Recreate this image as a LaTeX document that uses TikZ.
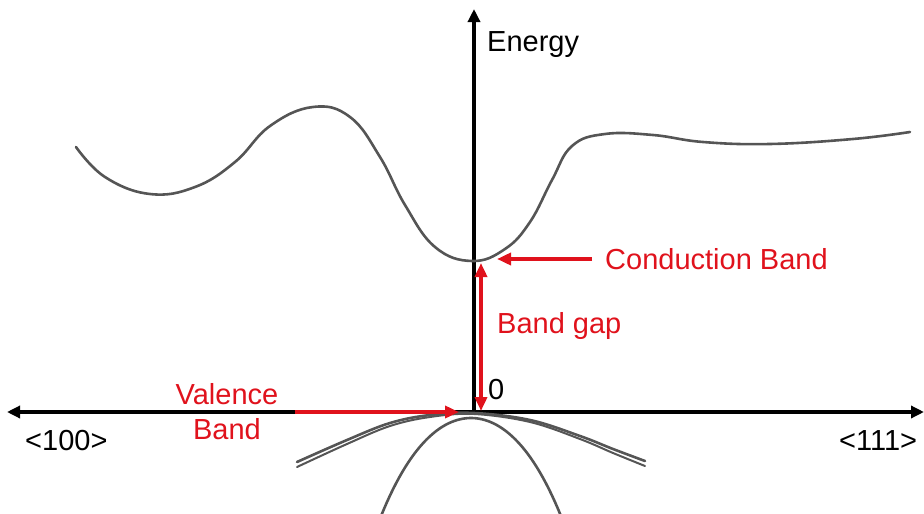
\documentclass[tikz,border=0pt]{standalone}
\usepackage{fontspec}
\setmainfont{Liberation Sans}
\usetikzlibrary{arrows.meta,positioning}
\definecolor{bandred}{RGB}{224,18,28}
\definecolor{curvegray}{RGB}{85,85,85}

\begin{document}
\begin{tikzpicture}[
  x=1pt, y=-1pt,
  font=\fontsize{29}{35}\selectfont,
  lbl/.style={inner sep=0pt, anchor=west},
  redlbl/.style={lbl, text=bandred},
  axis/.style={line width=3.5pt, -{Triangle[length=13pt,width=12pt]}},
  redarr/.style={draw=bandred, line width=3.5pt, -{Triangle[length=14pt,width=12pt]}},
  band/.style={draw=curvegray, line width=2.6pt, line cap=round}]
\useasboundingbox (0,0) rectangle (924,514);
% --- axes ---
\coordinate (o) at (474,412);
\coordinate (kleft) at (7,412);
\coordinate (kright) at (924,412);
\coordinate (etop) at (474,9);
\draw[axis] (o) -- (etop);
\draw[axis, {Triangle[length=13pt,width=12pt]}-{Triangle[length=13pt,width=12pt]}] (kleft) -- (kright);
\node[lbl] (energy) at (487,45) {Energy};
\node[lbl] (zero) at (488,390) {0};
\node[lbl] (k100) at (25,441) {<100>};
\node[lbl] (k111) at (839,441) {<111>};
% --- conduction band ---
\draw[band] plot[smooth, tension=0.7] coordinates {(76,147) (105,177) (150,194) (195,187)
  (235,162) (270,126) (313,107) (350,117) (380,157) (405,205) (435,247) (472,261)
  (505,249) (530,222) (552,180) (572,146) (605,134) (653,135) (703,142) (770,144)
  (853,139) (910,132)};
% --- valence bands ---
\draw[band] plot[smooth, tension=0.6] coordinates {(297,462) (347,440) (390,423) (430,415)
  (474,413) (530,420) (580,436) (613,449) (645,461)};
\draw[band, line width=2pt] plot[smooth, tension=0.6] coordinates {(297,467) (347,444) (390,426) (430,417)
  (474,414) (530,422) (580,439) (613,453) (645,466)};
\draw[band] plot[domain=-90:90, samples=60]
  ({471+\x},{418+0.0105*\x*\x+20*(\x/100)*(\x/100)*(\x/100)*(\x/100)});
% --- labels and arrows ---
\coordinate (cbmin) at (497,259);
\node[redlbl] (cblbl) at (605,259) {Conduction Band};
\draw[redarr, shorten <=13pt] (cblbl.west) -- (cbmin);
\coordinate (gaptop) at (481,263);
\coordinate (gapbot) at (481,411);
\draw[redarr, {Triangle[length=14pt,width=12pt]}-{Triangle[length=14pt,width=12pt]}] (gapbot) -- (gaptop);
\node[redlbl] (gap) at (497,326) {Band gap};
\node[text=bandred, inner sep=0pt, align=center] (vb) at (227,412) {Valence\\Band};
\coordinate (vbtop) at (459,412);
\draw[redarr, shorten <=16pt] (vb.east) -- (vbtop);
\end{tikzpicture}
\end{document}
